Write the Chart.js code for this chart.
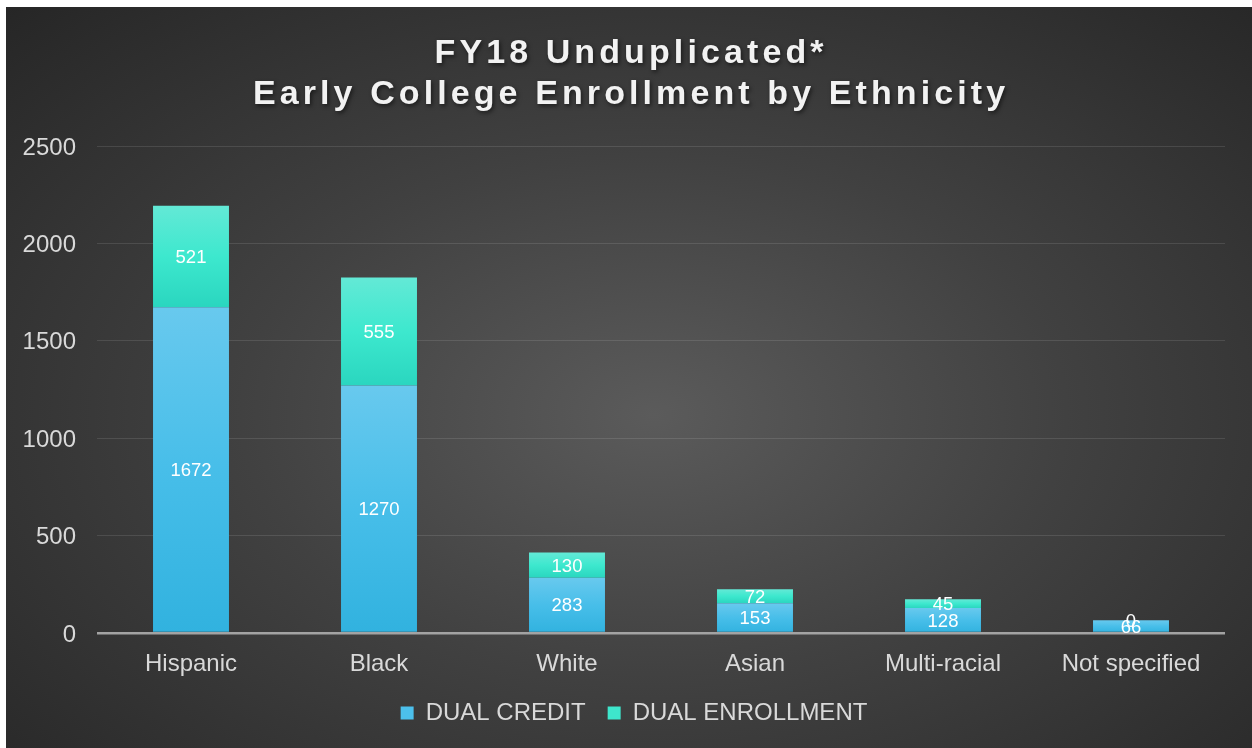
<!DOCTYPE html>
<html><head><meta charset="utf-8">
<script src="https://cdn.jsdelivr.net/npm/chart.js@4"></script>
<style>
html,body{margin:0;padding:0;background:#ffffff;overflow:hidden;}
#wrap{position:absolute;left:6px;top:7px;width:1246px;height:741px;
  background:radial-gradient(ellipse farthest-corner at 52% 55%, #5b5b5b 0%, #414141 45%, #262626 100%);}
canvas{display:block;}
</style></head><body>
<div id="wrap"><canvas id="c" width="1246" height="741"></canvas></div>
<script>
const categories = ['Hispanic', 'Black', 'White', 'Asian', 'Multi-racial', 'Not specified'];
const dualCredit = [1672, 1270, 283, 153, 128, 66];
const dualEnrollment = [521, 555, 130, 72, 45, 0];
const yTicks = [0, 500, 1000, 1500, 2000, 2500];
const seriesNames = ['DUAL CREDIT', 'DUAL ENROLLMENT'];
const titleLines = ['FY18 Unduplicated*', 'Early College Enrollment by Ethnicity'];

const FONT = '"Liberation Sans", Arial, Helvetica, sans-serif';
const series = [dualCredit, dualEnrollment];
const solidColors = ['#4cc0ec', '#3ee6cc'];
const gradStops = [
  [[0, '#68c9ee'], [0.5, '#47bee9'], [1, '#31b2df']],
  [[0, '#63e9d6'], [0.5, '#3de8ce'], [1, '#2ad6bf']]
];

function segmentFill(dsIndex) {
  return function (ctx) {
    const chart = ctx.chart;
    const y = chart.scales && chart.scales.y;
    if (!chart.chartArea || !y || ctx.dataIndex === undefined) return solidColors[dsIndex];
    const i = ctx.dataIndex;
    let lo = 0;
    for (let k = 0; k < dsIndex; k++) lo += series[k][i];
    const hi = lo + series[dsIndex][i];
    const top = y.getPixelForValue(hi), bot = y.getPixelForValue(lo);
    if (Math.abs(bot - top) < 1) return solidColors[dsIndex];
    const g = chart.ctx.createLinearGradient(0, top, 0, bot);
    gradStops[dsIndex].forEach(s => g.addColorStop(s[0], s[1]));
    return g;
  };
}

const titlePlugin = {
  id: 'spacedTitle',
  afterDraw(chart) {
    const ctx = chart.ctx;
    const spacing = 4.1;
    const baselines = [56, 97];
    ctx.save();
    ctx.font = 'bold 34px ' + FONT;
    ctx.textAlign = 'left';
    ctx.textBaseline = 'alphabetic';
    ctx.fillStyle = '#f2f2f2';
    ctx.shadowColor = 'rgba(0,0,0,0.55)';
    ctx.shadowBlur = 4;
    ctx.shadowOffsetX = 1.5;
    ctx.shadowOffsetY = 2;
    titleLines.forEach((line, li) => {
      const chars = Array.from(line);
      let w = 0;
      chars.forEach((ch, k) => { w += ctx.measureText(ch).width + (k < chars.length - 1 ? spacing : 0); });
      let x = chart.width / 2 - w / 2;
      chars.forEach(ch => { ctx.fillText(ch, x, baselines[li]); x += ctx.measureText(ch).width + spacing; });
    });
    ctx.restore();
  }
};

const valueLabels = {
  id: 'valueLabels',
  afterDatasetsDraw(chart) {
    const ctx = chart.ctx;
    ctx.save();
    ctx.font = '18.5px ' + FONT;
    ctx.fillStyle = '#ffffff';
    ctx.textAlign = 'center';
    ctx.textBaseline = 'middle';
    chart.data.datasets.forEach((ds, di) => {
      const meta = chart.getDatasetMeta(di);
      meta.data.forEach((el, i) => {
        const v = ds.data[i];
        const cy = (el.y + el.base) / 2 + 1.5;
        ctx.fillText(String(v), el.x, cy);
      });
    });
    ctx.restore();
  }
};

new Chart(document.getElementById('c'), {
  type: 'bar',
  data: {
    labels: categories,
    datasets: [
      { label: seriesNames[0], data: dualCredit, backgroundColor: segmentFill(0), borderWidth: 0,
        categoryPercentage: 1, barPercentage: 0.404 },
      { label: seriesNames[1], data: dualEnrollment, backgroundColor: segmentFill(1), borderWidth: 0,
        categoryPercentage: 1, barPercentage: 0.404 }
    ]
  },
  options: {
    responsive: false,
    animation: false,
    devicePixelRatio: 1,
    layout: { padding: { top: 139, left: 10, right: 0, bottom: 13 } },
    plugins: {
      title: { display: false },
      tooltip: { enabled: false },
      legend: {
        position: 'bottom',
        labels: {
          boxWidth: 13, boxHeight: 13, padding: 22,
          color: '#d9d9d9',
          font: { family: FONT, size: 24 },
          generateLabels(chart) {
            return Chart.defaults.plugins.legend.labels.generateLabels(chart).map((it, k) => {
              it.fillStyle = solidColors[k];
              it.strokeStyle = 'rgba(0,0,0,0)';
              it.lineWidth = 0;
              return it;
            });
          }
        }
      }
    },
    scales: {
      x: {
        stacked: true,
        grid: { display: false, drawTicks: false },
        border: { display: false },
        ticks: { color: '#d9d9d9', font: { family: FONT, size: 24 }, padding: 17, maxRotation: 0 },
        afterFit(s) { s.height = 46; }
      },
      y: {
        stacked: true,
        min: 0, max: 2500,
        afterBuildTicks(s) { s.ticks = yTicks.map(v => ({ value: v })); },
        grid: {
          drawTicks: false,
          color: c => (c.tick && c.tick.value === 0) ? '#a3a3a3' : 'rgba(255,255,255,0.11)',
          lineWidth: c => (c.tick && c.tick.value === 0) ? 2.5 : 1
        },
        border: { display: false },
        ticks: { color: '#d9d9d9', font: { family: FONT, size: 24 }, padding: 21, labelOffset: 2,
          callback: v => String(v) },
        afterFit(s) { s.width = 81; }
      },
      yRight: {
        position: 'right',
        display: true,
        min: 0, max: 1,
        grid: { display: false, drawTicks: false },
        border: { display: false },
        ticks: { display: false },
        afterFit(s) { s.width = 27; }
      }
    }
  },
  plugins: [valueLabels, titlePlugin]
});
</script>
</body></html>
